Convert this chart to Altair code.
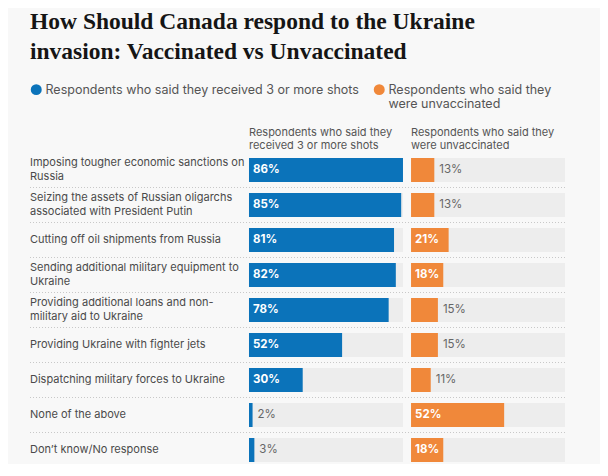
import altair as alt
import pandas as pd

# ---------------- data ----------------
categories = [
    "Imposing tougher economic sanctions on\nRussia",
    "Seizing the assets of Russian oligarchs\nassociated with President Putin",
    "Cutting off oil shipments from Russia",
    "Sending additional military equipment to\nUkraine",
    "Providing additional loans and non-\nmilitary aid to Ukraine",
    "Providing Ukraine with fighter jets",
    "Dispatching military forces to Ukraine",
    "None of the above",
    "Don\u2019t know/No response",
]
vaccinated = [86, 85, 81, 82, 78, 52, 30, 2, 3]
unvaccinated = [13, 13, 21, 18, 15, 15, 11, 52, 18]

group_names = [
    "Respondents who said they received 3 or more shots",
    "Respondents who said they were unvaccinated",
]
group_headers = [
    "Respondents who said they\nreceived 3 or more shots",
    "Respondents who said they\nwere unvaccinated",
]
colors = ["#0B73BA", "#F0883A"]

title_lines = ["How Should Canada respond to the Ukraine",
               "invasion: Vaccinated vs Unvaccinated"]

# ---------------- layout constants (data units of the shared x scale) ----------------
SCALE_MAX = max(vaccinated + unvaccinated)   # grey track length (86)
PANEL2 = 90.5                                 # start of second panel
XMIN, XMAX = -122.3, 177.6
INSIDE_MIN = 16                               # labels drawn inside bar from this value

rows = []
for i, c in enumerate(categories):
    rows.append({"cat": c, "order": i, "group": group_names[0], "gi": 0, "value": vaccinated[i]})
    rows.append({"cat": c, "order": i, "group": group_names[1], "gi": 1, "value": unvaccinated[i]})
df = pd.DataFrame(rows)
hdr = pd.DataFrame({"group": group_names, "gi": [0, 1], "header": group_headers})

FONT = "Inter"
x_scale = alt.Scale(domain=[XMIN, XMAX], nice=False, zero=False)
y_scale = alt.Scale(paddingInner=0.314, paddingOuter=0)
Y = alt.Y("cat:N", sort=categories, axis=None, scale=y_scale)

base = alt.Chart(df).transform_calculate(
    start=f"datum.gi == 0 ? 0 : {PANEL2}",
).transform_calculate(
    end="datum.start + datum.value",
    track=f"datum.start + {SCALE_MAX}",
    lab="datum.value + '%'",
    multi="indexof(datum.cat, '\\n') >= 0",
)

track = base.mark_bar(color="#EDEDED").encode(
    x=alt.X("start:Q", scale=x_scale, axis=None), x2="track:Q", y=Y)

legend_expr = (
    f"datum.value == '{group_names[1]}' ? ['Respondents who said they', 'were unvaccinated'] "
    f": [datum.label, '']"
)

bars = base.mark_bar().encode(
    x=alt.X("start:Q", scale=x_scale, axis=None), x2="end:Q", y=Y,
    color=alt.Color(
        "group:N",
        scale=alt.Scale(domain=group_names, range=colors),
        legend=alt.Legend(
            title=None, orient="none", legendX=0, legendY=-75,
            direction="horizontal", symbolType="circle", symbolSize=120,
            symbolStrokeWidth=0, labelFont=FONT, labelFontSize=12.5,
            labelColor="#555555", columnPadding=14, labelOffset=3,
            labelLimit=400, labelBaseline="middle",
            labelExpr=legend_expr,
        ),
    ),
)

inside = base.transform_filter(f"datum.value >= {INSIDE_MIN}").mark_text(
    align="left", baseline="middle", dx=4, font=FONT, fontSize=11.5,
    fontWeight="bold", color="white",
).encode(x=alt.X("start:Q", scale=x_scale), y=Y, text="lab:N")

outside = base.transform_filter(f"datum.value < {INSIDE_MIN}").mark_text(
    align="left", baseline="middle", dx=5, font=FONT, fontSize=11.5,
    color="#666666",
).encode(x=alt.X("end:Q", scale=x_scale), y=Y, text="lab:N")

row_labels_1 = base.transform_filter("datum.gi == 0 && !datum.multi").mark_text(
    align="left", baseline="middle", font=FONT, fontSize=11, color="#4A4A4A",
).encode(x=alt.datum(XMIN), y=Y, text="cat:N")

row_labels_2 = base.transform_filter("datum.gi == 0 && datum.multi").mark_text(
    align="left", baseline="middle", lineBreak="\n", lineHeight=14, dy=-7,
    font=FONT, fontSize=11, color="#4A4A4A",
).encode(x=alt.datum(XMIN), y=Y, text="cat:N")

seps = base.transform_filter(f"datum.gi == 0 && datum.order < {len(categories) - 1}").mark_rule(
    color="#C8C8C8", strokeDash=[1, 2], strokeWidth=1, yOffset=17.5,
).encode(x=alt.datum(XMIN), x2=alt.datum(XMAX), y=Y)

headers = alt.Chart(hdr).transform_calculate(
    start=f"datum.gi == 0 ? 0 : {PANEL2}",
).mark_text(
    align="left", baseline="middle", lineBreak="\n", lineHeight=12.5,
    font=FONT, fontSize=11, color="#555555",
).encode(x=alt.X("start:Q", scale=x_scale), y=alt.value(-25), text="header:N")

chart = alt.layer(track, bars, inside, outside, row_labels_1, row_labels_2, seps, headers).properties(
    width=537, height=304,
    autosize=alt.AutoSizeParams(type="none"),
    padding={"left": 22, "top": 150, "right": 33, "bottom": 2},
    background="#F8F8F8",
    title=alt.TitleParams(
        text=title_lines, anchor="start", frame="group", font="Liberation Serif",
        fontSize=23.5, fontWeight="bold", color="#151515", lineHeight=30,
        baseline="top", offset=20,
    ),
).configure_view(stroke=None)

chart.save("out.html", embed_options={"renderer": "svg", "actions": False})
